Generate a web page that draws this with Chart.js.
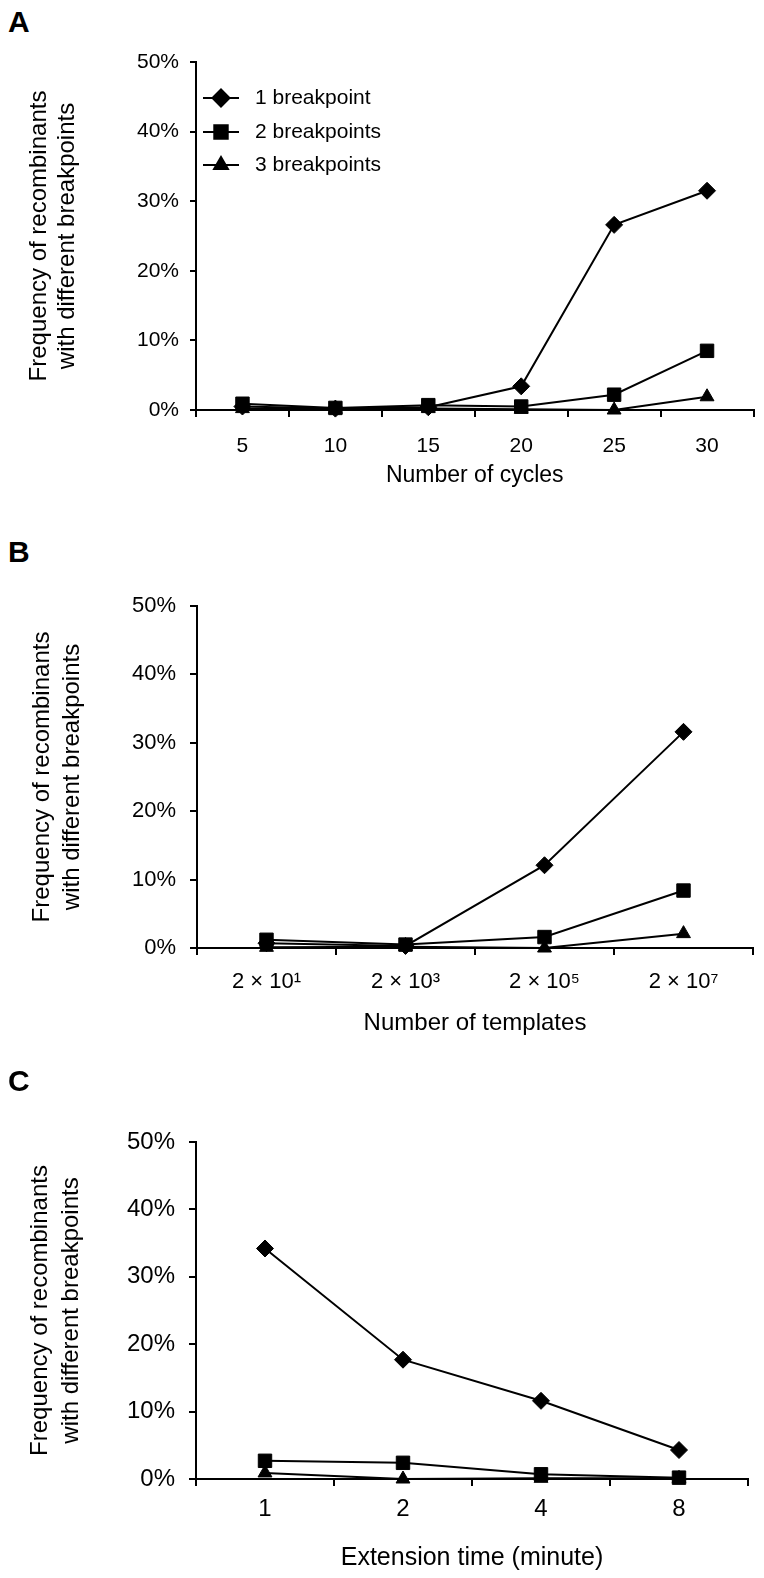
<!DOCTYPE html>
<html>
<head>
<meta charset="utf-8">
<script src="https://cdn.jsdelivr.net/npm/chart.js"></script>
<style>
  body { margin: 0; background: #fff; }
  #page { position: relative; width: 764px; height: 1578px; }
  canvas { position: absolute; left: 0; }
  .letter { position: absolute; left: 8px; font: bold 30px "Liberation Sans", Arial, sans-serif; line-height: 30px; color: #000; }
</style>
</head>
<body>
<div id="page">
  <div class="letter" style="top:7px">A</div>
  <canvas id="chartA" width="764" height="520" style="top:0px"></canvas>
  <div class="letter" style="top:537px">B</div>
  <canvas id="chartB" width="764" height="540" style="top:540px"></canvas>
  <div class="letter" style="top:1066px">C</div>
  <canvas id="chartC" width="764" height="498" style="top:1080px"></canvas>
</div>
<script>
const seriesNames = ['1 breakpoint', '2 breakpoints', '3 breakpoints'];
const pointStyles = ['rectRot', 'rect', 'triangle'];

// A: number of cycles
const cycleLabels = ['5', '10', '15', '20', '25', '30'];
const cycles1 = [0.5, 0.2, 0.4, 3.4, 26.6, 31.5];
const cycles2 = [0.9, 0.3, 0.7, 0.5, 2.2, 8.5];
const cycles3 = [0.2, 0.1, 0.2, 0.1, 0, 1.9];

// B: number of templates
const templateLabels = ['2 × 10¹', '2 × 10³', '2 × 10⁵', '2 × 10⁷'];
const templates1 = [0.7, 0.3, 12.1, 31.6];
const templates2 = [1.2, 0.5, 1.6, 8.4];
const templates3 = [0.1, 0.2, 0, 2.1];

// C: extension time
const timeLabels = ['1', '2', '4', '8'];
const time1 = [34.2, 17.7, 11.6, 4.3];
const time2 = [2.7, 2.4, 0.7, 0.2];
const time3 = [0.9, 0, 0.1, 0.1];

const yMax = 50;
const yStep = 10;
const yTitle = ['Frequency of recombinants', 'with different breakpoints'];

const FONT = '"Liberation Sans", Arial, sans-serif';
const radii = [8.5, 9.5, 8];

function makeDatasets(series) {
  return series.map((data, i) => ({
    label: seriesNames[i],
    data,
    borderColor: '#000',
    backgroundColor: '#000',
    borderWidth: 2,
    pointStyle: pointStyles[i],
    pointRadius: radii[i],
    pointBackgroundColor: '#000',
    pointBorderColor: '#000',
    pointBorderWidth: 1,
    tension: 0,
    clip: false
  }));
}

// legend drawn inside the plot, top-left
const insideLegend = {
  id: 'insideLegend',
  afterDatasetsDraw(chart, args, opts) {
    if (!opts.show) return;
    const ctx = chart.ctx;
    ctx.save();
    chart.data.datasets.forEach((ds, i) => {
      const y = opts.rows[i];
      ctx.strokeStyle = '#000';
      ctx.lineWidth = 2;
      ctx.beginPath();
      ctx.moveTo(opts.x0, y);
      ctx.lineTo(opts.x1, y);
      ctx.stroke();
      ctx.fillStyle = '#000';
      Chart.helpers.drawPoint(ctx, {
        pointStyle: ds.pointStyle, radius: ds.pointRadius, rotation: 0, borderWidth: 1
      }, (opts.x0 + opts.x1) / 2, y);
      ctx.font = opts.font;
      ctx.textBaseline = 'middle';
      ctx.textAlign = 'left';
      ctx.fillText(ds.label, opts.textX, y);
    });
    ctx.restore();
  }
};

function makeChart(id, cfg) {
  return new Chart(document.getElementById(id), {
    type: 'line',
    data: { labels: cfg.labels, datasets: makeDatasets(cfg.series) },
    options: {
      responsive: false,
      animation: false,
      devicePixelRatio: 1,
      layout: { padding: { left: 0, top: cfg.top, right: cfg.right, bottom: 0 } },
      plugins: {
        legend: { display: false },
        tooltip: { enabled: false },
        insideLegend: cfg.legend || { show: false }
      },
      scales: {
        x: {
          offset: true,
          grid: { display: true, offset: true, drawOnChartArea: false, drawTicks: true, tickLength: 7, color: '#000', lineWidth: 2 },
          border: { display: true, color: '#000', width: 2 },
          ticks: { color: '#000', font: { family: FONT, size: cfg.tickSize }, padding: cfg.xTickPad, maxRotation: 0, autoSkip: false },
          title: { display: true, text: cfg.xTitle, color: '#000', font: { family: FONT, size: cfg.xTitleSize }, padding: { top: 0, bottom: cfg.xTitlePad } },
          afterFit(scale) { scale.height = cfg.xHeight; }
        },
        y: {
          min: 0,
          max: yMax,
          grid: { display: true, drawOnChartArea: false, drawTicks: true, tickLength: cfg.yTickLen, color: '#000', lineWidth: 2 },
          border: { display: true, color: '#000', width: 2 },
          ticks: { stepSize: yStep, color: '#000', font: { family: FONT, size: cfg.tickSize }, padding: cfg.yTickPad, callback: v => v + '%' },
          title: { display: true, text: yTitle, color: '#000', font: { family: FONT, size: 24, lineHeight: cfg.yTitleLH + 'px' }, padding: { top: cfg.yTitlePad, bottom: 0 } },
          afterFit(scale) { scale.width = cfg.yWidth; }
        }
      }
    },
    plugins: [insideLegend]
  });
}

makeChart('chartA', {
  labels: cycleLabels, series: [cycles1, cycles2, cycles3],
  top: 62, right: 8, yWidth: 196, xHeight: 110,
  tickSize: 21, xTickPad: 17, yTickLen: 6, yTickPad: 11,
  xTitle: 'Number of cycles', xTitleSize: 23, xTitlePad: 31,
  yTitleLH: 28, yTitlePad: 25,
  legend: { show: true, x0: 203, x1: 239, rows: [98, 132, 165], textX: 255, font: '21px ' + FONT }
});

makeChart('chartB', {
  labels: templateLabels, series: [templates1, templates2, templates3],
  top: 66, right: 11, yWidth: 197, xHeight: 132,
  tickSize: 22, xTickPad: 14, yTickLen: 7, yTickPad: 14,
  xTitle: 'Number of templates', xTitleSize: 24, xTitlePad: 42,
  yTitleLH: 30, yTitlePad: 27
});

makeChart('chartC', {
  labels: timeLabels, series: [time1, time2, time3],
  top: 62, right: 16, yWidth: 196, xHeight: 99,
  tickSize: 24, xTickPad: 9, yTickLen: 7, yTickPad: 14,
  xTitle: 'Extension time (minute)', xTitleSize: 25, xTitlePad: 5,
  yTitleLH: 31, yTitlePad: 25
});
</script>
</body>
</html>
